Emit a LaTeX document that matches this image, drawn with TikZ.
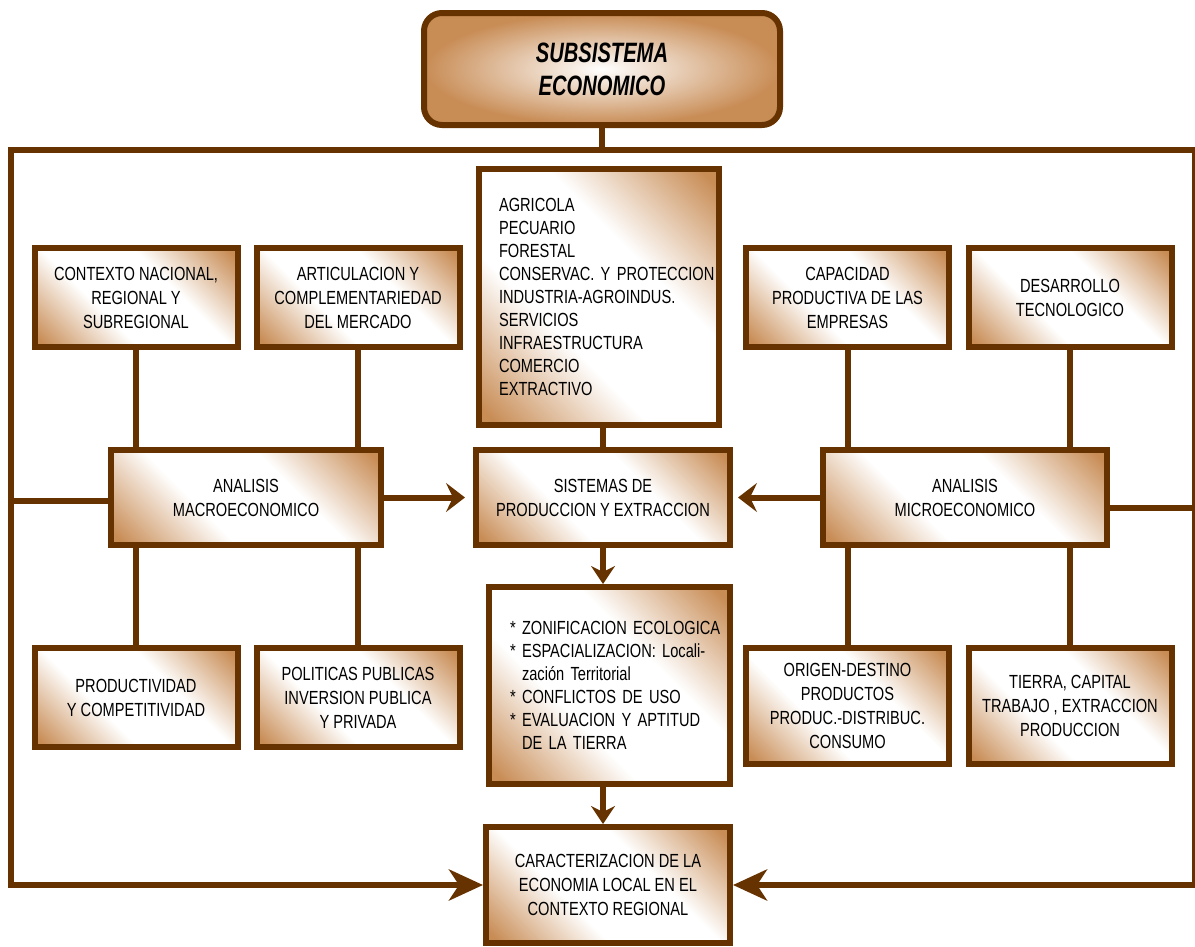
\documentclass[tikz,border=0pt]{standalone}
\usepackage{fontspec}
\setmainfont{Liberation Sans}[FakeStretch=0.77]
\newfontfamily\titlefont{Liberation Sans}[FakeStretch=0.72]
\usetikzlibrary{arrows.meta}
\definecolor{cafe}{RGB}{102,51,0}
\definecolor{canela}{RGB}{200,140,85}
\pgfdeclareverticalshading{vetacafe}{100bp}{color(0bp)=(canela); color(17bp)=(canela); color(39bp)=(white); color(61bp)=(white); color(83bp)=(canela); color(100bp)=(canela)}
\begin{document}
\begin{tikzpicture}[x=1pt,y=-1pt,
	caja/.style={draw=cafe,line width=6pt,shading=vetacafe,shading angle=-45,align=center,inner sep=0pt,font=\fontsize{19}{24}\selectfont},
	chica/.style={caja,minimum width=203pt,minimum height=99pt},
	lista/.style={caja,align=left,font=\fontsize{19}{23}\selectfont},
	titulo/.style={draw=cafe,line width=6pt,rounded corners=18pt,inner color=white,outer color=canela,minimum width=356pt,minimum height=112pt,align=center,font=\titlefont\bfseries\itshape\fontsize{28}{33}\selectfont},
	enlace/.style={draw=cafe,line width=6pt},
	flecha/.style={enlace,-{Stealth[length=19pt,width=29pt,inset=7pt]}},
	flechabaja/.style={enlace,-{Stealth[length=18pt,width=24pt,inset=6pt]}},
	flechagrande/.style={enlace,-{Stealth[length=34pt,width=31pt,inset=10pt]}}]
	\useasboundingbox (0,0) rectangle (1195,946);
	\node[titulo] (tit) at (602,69) {SUBSISTEMA\\ECONOMICO};
	% fila de arriba
	\node[chica] (ctx) at (136,297.5) {CONTEXTO NACIONAL,\\REGIONAL Y\\SUBREGIONAL};
	\node[chica] (art) at (358,297.5) {ARTICULACION Y\\COMPLEMENTARIEDAD\\DEL MERCADO};
	\node[lista,minimum width=240pt,minimum height=256pt,text width=200pt] (sect) at (599,297) {AGRICOLA\\PECUARIO\\FORESTAL\\\mbox{CONSERVAC. Y PROTECCION}\\\mbox{INDUSTRIA-AGROINDUS.}\\SERVICIOS\\INFRAESTRUCTURA\\COMERCIO\\EXTRACTIVO};
	\node[chica] (cap) at (847.5,297.5) {CAPACIDAD\\PRODUCTIVA DE LAS\\EMPRESAS};
	\node[chica] (des) at (1070,297.5) {DESARROLLO\\TECNOLOGICO};
	% fila central
	\node[caja,minimum width=270pt,minimum height=95pt] (macro) at (246,497.5) {ANALISIS\\MACROECONOMICO};
	\node[caja,minimum width=254pt,minimum height=95pt] (sis) at (603,497.5) {SISTEMAS DE\\PRODUCCION Y EXTRACCION};
	\node[caja,minimum width=284pt,minimum height=95pt] (micro) at (965,497.5) {ANALISIS\\MICROECONOMICO};
	% fila de abajo
	\node[chica] (prod) at (136,697.5) {PRODUCTIVIDAD\\Y COMPETITIVIDAD};
	\node[chica] (pol) at (358,697.5) {POLITICAS PUBLICAS\\INVERSION PUBLICA\\Y PRIVADA};
	\node[lista,minimum width=241pt,minimum height=197pt,text width=199pt] (zon) at (609.5,685.5) {\mbox{* ZONIFICACION ECOLOGICA}\\{}\mbox{* ESPACIALIZACION: Locali-}\\\hspace*{12pt}zación Territorial\\{}\mbox{* CONFLICTOS DE USO}\\{}\mbox{* EVALUACION Y APTITUD}\\\hspace*{12pt}DE LA TIERRA};
	\node[chica,minimum height=116pt] (ori) at (847.5,706) {ORIGEN-DESTINO\\PRODUCTOS\\PRODUC.-DISTRIBUC.\\CONSUMO};
	\node[chica,minimum height=116pt] (tie) at (1070,706) {TIERRA, CAPITAL\\TRABAJO , EXTRACCION\\PRODUCCION};
	\node[caja,minimum width=244pt,minimum height=116pt] (car) at (608,885) {CARACTERIZACION DE LA\\ECONOMIA LOCAL EN EL\\CONTEXTO REGIONAL};
	% marco
	\coordinate (tl) at (11,150);
	\coordinate (tr) at (1195,150);
	\coordinate (bl) at (11,885);
	\coordinate (br) at (1195,885);
	\draw[enlace] (tit.south) -- (tit.south |- tl);
	\draw[flechagrande] (tr) -- (tl) -- (bl) -- (car.west);
	\draw[flechagrande] (tr) -- (br) -- (car.east);
	\draw[enlace] ([yshift=-3pt]macro.west) -- ([yshift=-3pt]macro.west -| tl);
	\draw[enlace] ([yshift=-10pt]micro.east) -- ([yshift=-10pt]micro.east -| tr);
	% conexiones
	\draw[enlace] (ctx.south) -- (ctx.south |- macro.north);
	\draw[enlace] (art.south) -- (art.south |- macro.north);
	\draw[enlace] (cap.south) -- (cap.south |- micro.north);
	\draw[enlace] (des.south) -- (des.south |- micro.north);
	\draw[enlace] (prod.north) -- (prod.north |- macro.south);
	\draw[enlace] (pol.north) -- (pol.north |- macro.south);
	\draw[enlace] (ori.north) -- (ori.north |- micro.south);
	\draw[enlace] (tie.north) -- (tie.north |- micro.south);
	\draw[enlace] (sis.north |- sect.south) -- (sis.north);
	\draw[flecha,shorten >=8pt] (macro.east) -- (sis.west);
	\draw[flecha,shorten >=5pt] (micro.west) -- (sis.east);
	\draw[flechabaja] (sis.south) -- (sis.south |- zon.north);
	\draw[flechabaja] (sis.south |- zon.south) -- (sis.south |- car.north);
\end{tikzpicture}
\end{document}
